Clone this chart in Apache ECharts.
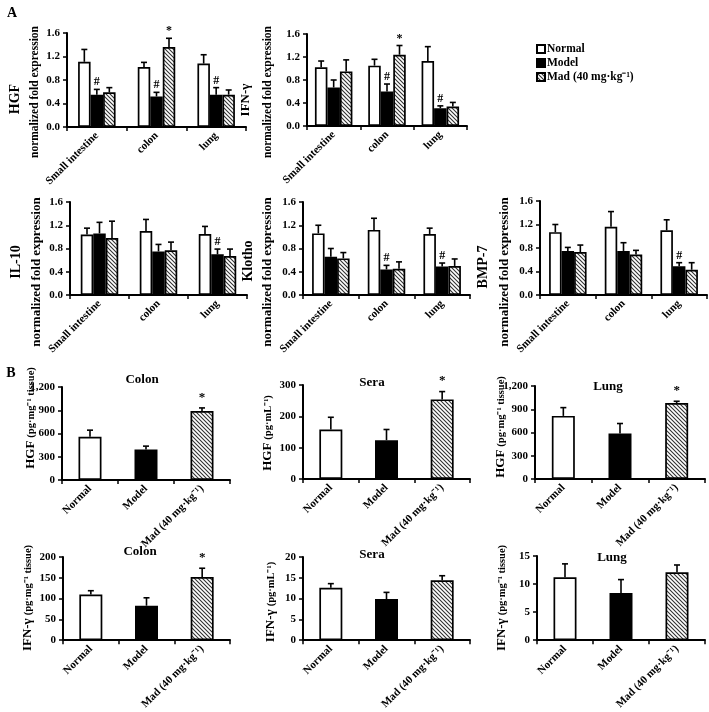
<!DOCTYPE html>
<html><head><meta charset="utf-8">
<script src="https://cdn.jsdelivr.net/npm/echarts@6/dist/echarts.min.js"></script>
<style>html,body{margin:0;padding:0;background:#fff}#c{width:709px;height:712px}</style>
</head><body><div id="c"></div>
<script>
const FONT = '"Liberation Serif","Times New Roman",serif';

// ---------- categories / ticks ----------
const tissues = ['Small intestine', 'colon', 'lung'];
const groups = ['Normal', 'Model', 'Mad (40 mg·kg⁻¹)'];
const yTicksA = [0, 0.4, 0.8, 1.2, 1.6];
const yTicksHgfColon = [0, 300, 600, 900, 1200];
const yTicksHgfSera = [0, 100, 200, 300];
const yTicksHgfLung = [0, 300, 600, 900, 1200];
const yTicksIfnColon = [0, 50, 100, 150, 200];
const yTicksIfnSera = [0, 5, 10, 15, 20];
const yTicksIfnLung = [0, 5, 10, 15];

// ---------- Panel A (rows: Normal, Model, Mad; columns: tissues) ----------
const hgfMean = [[1.11, 1.02, 1.08], [0.55, 0.52, 0.55], [0.59, 1.36, 0.55]];
const hgfSd   = [[0.21, 0.08, 0.15], [0.09, 0.07, 0.12], [0.08, 0.15, 0.08]];
const hgfSig  = [['', '', ''], ['#', '#', '#'], ['', '*', '']];

const ifnMean = [[1.02, 1.05, 1.13], [0.67, 0.60, 0.31], [0.95, 1.24, 0.34]];
const ifnSd   = [[0.11, 0.11, 0.25], [0.13, 0.13, 0.04], [0.20, 0.16, 0.07]];
const ifnSig  = [['', '', ''], ['', '#', '#'], ['', '*', '']];

const il10Mean = [[1.04, 1.10, 1.05], [1.06, 0.75, 0.70], [0.98, 0.77, 0.67]];
const il10Sd   = [[0.11, 0.20, 0.13], [0.19, 0.12, 0.09], [0.29, 0.14, 0.12]];
const il10Sig  = [['', '', ''], ['', '', '#'], ['', '', '']];

const klothoMean = [[1.06, 1.12, 1.05], [0.66, 0.44, 0.49], [0.63, 0.45, 0.50]];
const klothoSd   = [[0.14, 0.20, 0.10], [0.14, 0.07, 0.06], [0.10, 0.12, 0.12]];
const klothoSig  = [['', '', ''], ['', '#', '#'], ['', '', '']];

const bmp7Mean = [[1.07, 1.16, 1.10], [0.75, 0.75, 0.49], [0.73, 0.69, 0.43]];
const bmp7Sd   = [[0.13, 0.26, 0.18], [0.06, 0.14, 0.06], [0.12, 0.07, 0.12]];
const bmp7Sig  = [['', '', ''], ['', '', '#'], ['', '', '']];

// ---------- Panel B (Normal, Model, Mad) ----------
const hgfColonMean = [557, 394, 891];  const hgfColonSd = [86, 43, 39];   const hgfColonSig = ['', '', '*'];
const hgfSeraMean  = [158, 124, 254];  const hgfSeraSd  = [39, 34, 25];   const hgfSeraSig  = ['', '', '*'];
const hgfLungMean  = [814, 587, 981];  const hgfLungSd  = [107, 129, 22]; const hgfLungSig  = ['', '', '*'];
const ifnColonMean = [110, 83, 152];   const ifnColonSd = [9, 19, 21];    const ifnColonSig = ['', '', '*'];
const ifnSeraMean  = [12.6, 9.9, 14.4]; const ifnSeraSd = [1.0, 1.6, 1.1]; const ifnSeraSig = ['', '', ''];
const ifnLungMean  = [11.2, 8.4, 12.1]; const ifnLungSd = [2.4, 2.4, 1.3]; const ifnLungSig = ['', '', ''];

// ---------- styles ----------
function hatchCanvas() {
  const c = document.createElement('canvas'); c.width = 4; c.height = 4;
  const g = c.getContext('2d');
  g.fillStyle = '#fff'; g.fillRect(0, 0, 4, 4);
  g.strokeStyle = '#333'; g.lineWidth = 1.1;
  g.beginPath();
  g.moveTo(-1, -1); g.lineTo(5, 5);
  g.moveTo(-1, 3); g.lineTo(1, 5);
  g.moveTo(3, -1); g.lineTo(5, 1);
  g.stroke();
  return c;
}
const hatch = { image: hatchCanvas(), repeat: 'repeat' };
const fills = ['#fff', '#000', hatch];
const barBorder = { borderColor: '#000', borderWidth: 1.7 };

const gridsA = [
  { left: 67, top: 33, width: 179, height: 94 },
  { left: 307, top: 34, width: 160, height: 92 },
  { left: 70, top: 202, width: 177, height: 93 },
  { left: 303, top: 202, width: 167, height: 93 },
  { left: 540, top: 201, width: 167, height: 94 }
];
const gridsB = [
  { left: 62, top: 387, width: 168, height: 93 },
  { left: 303, top: 385, width: 167, height: 94 },
  { left: 535, top: 386, width: 170, height: 93 },
  { left: 63, top: 557, width: 167, height: 92 },
  { left: 303, top: 557, width: 167, height: 92 },
  { left: 537, top: 556, width: 168, height: 94 }
];

const panelsA = [
  { mean: hgfMean, sd: hgfSd, sig: hgfSig },
  { mean: ifnMean, sd: ifnSd, sig: ifnSig },
  { mean: il10Mean, sd: il10Sd, sig: il10Sig },
  { mean: klothoMean, sd: klothoSd, sig: klothoSig },
  { mean: bmp7Mean, sd: bmp7Sd, sig: bmp7Sig }
];
const panelsB = [
  { mean: hgfColonMean, sd: hgfColonSd, sig: hgfColonSig, ticks: yTicksHgfColon },
  { mean: hgfSeraMean, sd: hgfSeraSd, sig: hgfSeraSig, ticks: yTicksHgfSera },
  { mean: hgfLungMean, sd: hgfLungSd, sig: hgfLungSig, ticks: yTicksHgfLung },
  { mean: ifnColonMean, sd: ifnColonSd, sig: ifnColonSig, ticks: yTicksIfnColon },
  { mean: ifnSeraMean, sd: ifnSeraSd, sig: ifnSeraSig, ticks: yTicksIfnSera },
  { mean: ifnLungMean, sd: ifnLungSd, sig: ifnLungSig, ticks: yTicksIfnLung }
];

const lbl = { fontFamily: FONT, fontWeight: 'bold', color: '#000' };
const axisLine = { show: true, lineStyle: { color: '#000', width: 2 } };
const axisTick = { show: true, length: 4, lineStyle: { color: '#000', width: 1.5 } };

function errRender(items, barW, n, capW, sigGap, sigSize) {
  return function (params, api) {
    const it = items[params.dataIndex];
    const base = api.coord([it.c, it.m]);
    const top = api.coord([it.c, it.m + it.sd]);
    const x = base[0] + (it.k - (n - 1) / 2) * barW;
    const ch = [
      { type: 'line', shape: { x1: x, y1: base[1], x2: x, y2: top[1] }, style: { stroke: '#000', lineWidth: 1.6 } },
      { type: 'line', shape: { x1: x - capW, y1: top[1], x2: x + capW, y2: top[1] }, style: { stroke: '#000', lineWidth: 1.6 } }
    ];
    if (it.s) ch.push({ type: 'text', x: x, y: top[1] - sigGap,
      style: { text: it.s, fontFamily: FONT, fontSize: sigSize, fontWeight: 'bold', fill: '#000', align: 'center', verticalAlign: 'bottom' } });
    return { type: 'group', children: ch };
  };
}

const grid = [], xAxis = [], yAxis = [], series = [];

panelsA.forEach((p, i) => {
  grid.push(gridsA[i]);
  xAxis.push({ type: 'category', gridIndex: i, data: tissues, axisLine, axisTick,
    axisLabel: Object.assign({ rotate: 45, fontSize: 11, margin: 7, interval: 0 }, lbl) });
  yAxis.push({ type: 'value', gridIndex: i, min: yTicksA[0], max: yTicksA[yTicksA.length - 1],
    interval: yTicksA[1] - yTicksA[0], splitLine: { show: false }, axisLine, axisTick,
    axisLabel: Object.assign({ fontSize: 11, margin: 7, formatter: v => v.toFixed(1) }, lbl) });
  const items = [];
  groups.forEach((g, k) => {
    series.push({ type: 'bar', name: g, xAxisIndex: i, yAxisIndex: i, data: p.mean[k],
      barWidth: 12.5, barGap: '0%', itemStyle: Object.assign({ color: fills[k] }, barBorder) });
    p.mean[k].forEach((m, c) => items.push({ c, m, sd: p.sd[k][c], s: p.sig[k][c], k }));
  });
  series.push({ type: 'custom', xAxisIndex: i, yAxisIndex: i, z: 5,
    renderItem: errRender(items, 12.5, 3, 3, 1, 12),
    data: items.map(it => [it.c, it.m + it.sd]), encode: { x: 0, y: 1 } });
});

panelsB.forEach((p, j) => {
  const i = j + panelsA.length;
  grid.push(gridsB[j]);
  xAxis.push({ type: 'category', gridIndex: i, data: groups, axisLine, axisTick,
    axisLabel: Object.assign({ rotate: 45, fontSize: 11, margin: 7, interval: 0 }, lbl) });
  const t = p.ticks;
  yAxis.push({ type: 'value', gridIndex: i, min: t[0], max: t[t.length - 1], interval: t[1] - t[0],
    splitLine: { show: false }, axisLine, axisTick,
    axisLabel: Object.assign({ fontSize: 11, margin: 7 }, lbl) });
  series.push({ type: 'bar', name: 'B' + j, xAxisIndex: i, yAxisIndex: i, barWidth: 23,
    data: p.mean.map((v, k) => ({ value: v, itemStyle: Object.assign({ color: fills[k] }, barBorder) })) });
  const items = p.mean.map((m, c) => ({ c, m, sd: p.sd[c], s: p.sig[c], k: 0 }));
  series.push({ type: 'custom', xAxisIndex: i, yAxisIndex: i, z: 5,
    renderItem: errRender(items, 23, 1, 3, 4, 13),
    data: items.map(it => [it.c, it.m + it.sd]), encode: { x: 0, y: 1 } });
});

// ---------- texts ----------
function vtext(x, y, text, size, extra) {
  return { type: 'text', x, y, rotation: Math.PI / 2, z: 10,
    style: Object.assign({ text, fontFamily: FONT, fontWeight: 'bold', fontSize: size, fill: '#000',
      align: 'center', verticalAlign: 'middle' }, extra || {}) };
}
function htext(x, y, text, size) {
  return { type: 'text', x, y, z: 10,
    style: { text, fontFamily: FONT, fontWeight: 'bold', fontSize: size, fill: '#000', align: 'center', verticalAlign: 'middle' } };
}
function richLabel(x, y, a, b) {
  return vtext(x, y, '{a|' + a + '} {b|' + b + '}', 12, {
    rich: { a: { fontFamily: FONT, fontWeight: 'bold', fontSize: 13, fill: '#000' },
            b: { fontFamily: FONT, fontWeight: 'bold', fontSize: 10.5, fill: '#000' } } });
}
const NFE = 'normalized fold expression';
const graphic = [
  htext(12, 13, 'A', 14),
  htext(11, 373, 'B', 14),
  vtext(15, 99, 'HGF', 14), vtext(35, 92, NFE, 11.5),
  vtext(246, 100, 'IFN-γ', 13), vtext(268, 92, NFE, 11.5),
  vtext(16, 262, 'IL-10', 14), vtext(37, 272, NFE, 13),
  vtext(248, 261, 'Klotho', 14), vtext(268, 272, NFE, 13),
  vtext(483, 267, 'BMP-7', 14), vtext(505, 272, NFE, 13),
  richLabel(31, 418, 'HGF', '(pg·mg⁻¹ tissue)'),
  richLabel(268, 433, 'HGF', '(pg·mL⁻¹)'),
  richLabel(501, 427, 'HGF', '(pg·mg⁻¹ tissue)'),
  richLabel(28, 598, 'IFN-γ', '(pg·mg⁻¹ tissue)'),
  richLabel(271, 602, 'IFN-γ', '(pg·mL⁻¹)'),
  richLabel(502, 598, 'IFN-γ', '(pg·mg⁻¹ tissue)'),
  htext(142, 380, 'Colon', 13), htext(372, 383, 'Sera', 13), htext(608, 387, 'Lung', 13),
  htext(140, 552, 'Colon', 13), htext(372, 555, 'Sera', 13), htext(612, 558, 'Lung', 13)
];

const chart = echarts.init(document.getElementById('c'));
chart.setOption({
  backgroundColor: '#fff',
  animation: false,
  legend: { data: groups, orient: 'vertical', left: 531, top: 38, itemWidth: 8, itemHeight: 8, itemGap: 2,
    icon: 'rect', selectedMode: false,
    textStyle: { fontFamily: FONT, fontWeight: 'bold', fontSize: 11.5, color: '#000', padding: [0, 0, 0, -3] } },
  grid, xAxis, yAxis, series, graphic
});
</script></body></html>
